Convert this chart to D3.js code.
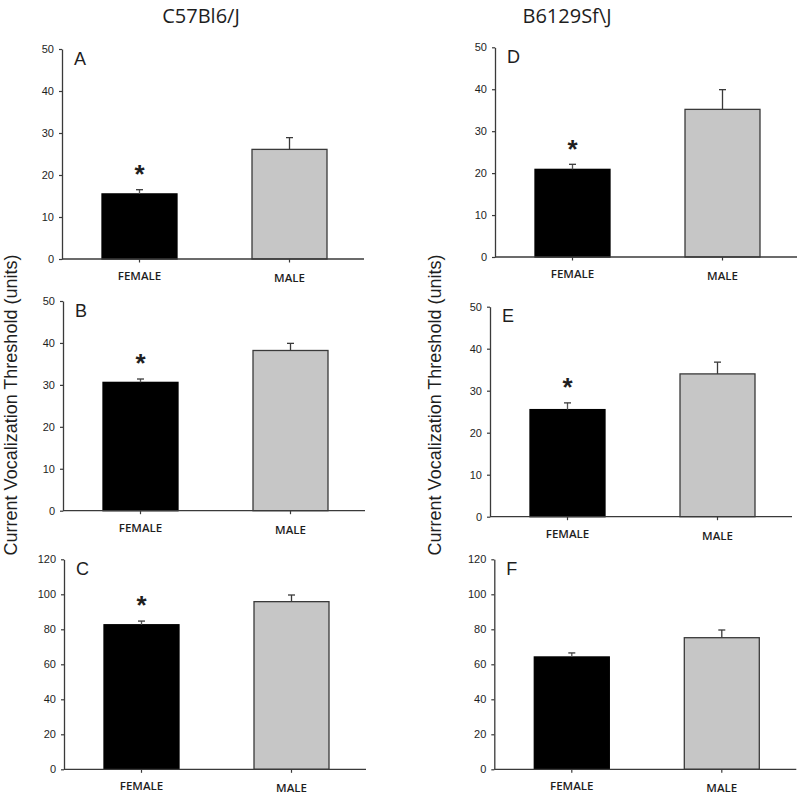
<!DOCTYPE html>
<html>
<head>
<meta charset="utf-8">
<script src="https://cdn.jsdelivr.net/npm/d3@7"></script>
<style>
  html, body { margin: 0; padding: 0; background: #fff; }
  svg { display: block; }
</style>
</head>
<body>
<script>
// ---------- DATA ----------
const categories = ["FEMALE", "MALE"];
const strainTitles = ["C57Bl6/J", "B6129Sf\\J"];
const yAxisTitle = "Current Vocalization Threshold (units)";
const panelLetters = ["A", "B", "C", "D", "E", "F"];

const ticks50 = [0, 10, 20, 30, 40, 50];
const ticks120 = [0, 20, 40, 60, 80, 100, 120];

// means and standard errors (FEMALE, MALE)
const meanA = [15.5, 26.1], errA = [1.0, 2.8], sigA = [true, false];
const meanB = [30.6, 38.2], errB = [0.8, 1.7], sigB = [true, false];
const meanC = [82.6, 95.8], errC = [2.1, 3.8], sigC = [true, false];
const meanD = [20.9, 35.2], errD = [1.2, 4.7], sigD = [true, false];
const meanE = [25.5, 34.0], errE = [1.6, 2.8], sigE = [true, false];
const meanF = [64.2, 75.2], errF = [2.3, 4.4], sigF = [false, false];

// ---------- LAYOUT ----------
const W = 800, H = 795;
const panels = [
  { letter: panelLetters[0], mean: meanA, err: errA, sig: sigA, ticks: ticks50,  L: 62,  top: 49,    bottom: 259 },
  { letter: panelLetters[1], mean: meanB, err: errB, sig: sigB, ticks: ticks50,  L: 63,  top: 301,   bottom: 510.7 },
  { letter: panelLetters[2], mean: meanC, err: errC, sig: sigC, ticks: ticks120, L: 64,  top: 559.3, bottom: 769.3 },
  { letter: panelLetters[3], mean: meanD, err: errD, sig: sigD, ticks: ticks50,  L: 495, top: 47.3,  bottom: 257 },
  { letter: panelLetters[4], mean: meanE, err: errE, sig: sigE, ticks: ticks50,  L: 490, top: 306.7, bottom: 516.7 },
  { letter: panelLetters[5], mean: meanF, err: errF, sig: sigF, ticks: ticks120, L: 494.3, top: 559.3, bottom: 769.3 }
];

const axisColor = "#3a3a3a";
const textColor = "#1e1e1e";
const fills = ["#000000", "#c6c6c6"];

const svg = d3.select("body").append("svg")
  .attr("width", W).attr("height", H)
  .attr("viewBox", `0 0 ${W} ${H}`);

// column titles
const titleX = [201, 567];
strainTitles.forEach((t, i) => {
  svg.append("text")
    .attr("x", titleX[i]).attr("y", 23)
    .attr("text-anchor", "middle")
    .attr("font-family", "'Open Sans', 'Noto Sans', sans-serif")
    .attr("font-size", 20)
    .attr("fill", textColor)
    .text(t);
});

// y axis titles (one per column)
[17, 441].forEach(x => {
  svg.append("text")
    .attr("transform", `translate(${x},405) rotate(-90)`)
    .attr("text-anchor", "middle")
    .attr("font-family", "'Liberation Sans', Arial, sans-serif")
    .attr("font-size", 18)
    .attr("fill", textColor)
    .text(yAxisTitle);
});

panels.forEach(p => {
  const g = svg.append("g");
  const axisLen = 302;
  const yMax = p.ticks[p.ticks.length - 1];

  const x = d3.scaleBand()
    .domain(categories)
    .range([p.L + 2.5, p.L + 2.5 + 300])
    .paddingInner(0.5)
    .paddingOuter(0.25);

  const y = d3.scaleLinear()
    .domain([0, yMax])
    .range([p.bottom, p.top]);

  // y axis
  const yAxis = d3.axisLeft(y)
    .tickValues(p.ticks)
    .tickSize(3)
    .tickPadding(5)
    .tickSizeOuter(0);
  const ya = g.append("g")
    .attr("transform", `translate(${p.L},0)`)
    .call(yAxis);
  ya.select(".domain").attr("stroke", axisColor).attr("stroke-width", 1.3);
  ya.selectAll(".tick line").attr("stroke", axisColor).attr("stroke-width", 1.2);
  ya.selectAll(".tick text")
    .attr("font-family", "'Liberation Sans', Arial, sans-serif")
    .attr("font-size", 11)
    .attr("fill", textColor);

  // bars
  g.selectAll("rect.bar")
    .data(categories)
    .join("rect")
    .attr("class", "bar")
    .attr("x", d => x(d))
    .attr("width", x.bandwidth())
    .attr("y", (d, i) => y(p.mean[i]))
    .attr("height", (d, i) => y(0) - y(p.mean[i]))
    .attr("fill", (d, i) => fills[i])
    .attr("stroke", (d, i) => i === 0 ? "#000" : axisColor)
    .attr("stroke-width", 1.3);

  // error bars (upper only)
  const capHalf = 3.5;
  categories.forEach((c, i) => {
    const cx = x(c) + x.bandwidth() / 2;
    const yTop = y(p.mean[i] + p.err[i]);
    g.append("line")
      .attr("x1", cx).attr("x2", cx)
      .attr("y1", y(p.mean[i])).attr("y2", yTop)
      .attr("stroke", i === 0 ? "#555" : axisColor).attr("stroke-width", 1.3);
    g.append("line")
      .attr("x1", cx - capHalf).attr("x2", cx + capHalf)
      .attr("y1", yTop).attr("y2", yTop)
      .attr("stroke", axisColor).attr("stroke-width", 1.3);
    if (p.sig[i]) {
      const centerY = yTop - 21;
      g.append("text")
        .attr("x", cx).attr("y", centerY + 0.55 * 26)
        .attr("text-anchor", "middle")
        .attr("font-family", "'Liberation Sans', Arial, sans-serif")
        .attr("font-weight", "bold")
        .attr("font-size", 26)
        .attr("fill", textColor)
        .text("*");
    }
  });

  // x axis line
  g.append("line")
    .attr("x1", p.L).attr("x2", p.L + axisLen)
    .attr("y1", p.bottom).attr("y2", p.bottom)
    .attr("stroke", axisColor).attr("stroke-width", 1.3);

  // x ticks and labels
  categories.forEach((c, i) => {
    const cx = x(c) + x.bandwidth() / 2;
    g.append("line")
      .attr("x1", cx).attr("x2", cx)
      .attr("y1", p.bottom).attr("y2", p.bottom + 3.5)
      .attr("stroke", axisColor).attr("stroke-width", 1.2);
    g.append("text")
      .attr("x", cx).attr("y", p.bottom + 21 + i * 2)
      .attr("text-anchor", "middle")
      .attr("font-family", "'Open Sans', 'Noto Sans', sans-serif")
      .attr("font-weight", 600)
      .attr("font-size", 11.5)
      .attr("fill", textColor)
      .text(c);
  });

  // panel letter
  g.append("text")
    .attr("x", p.L + 12).attr("y", p.top + 15.5)
    .attr("font-family", "'Liberation Sans', Arial, sans-serif")
    .attr("font-size", 18)
    .attr("fill", textColor)
    .text(p.letter);
});
</script>
</body>
</html>
